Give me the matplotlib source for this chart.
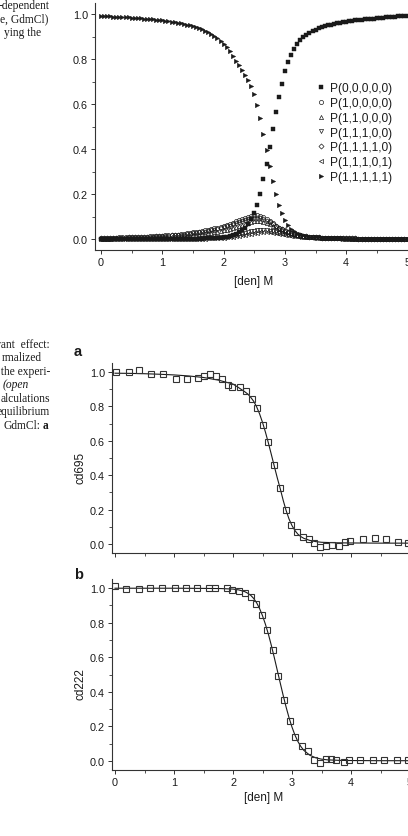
import matplotlib
matplotlib.use("Agg")
import matplotlib.pyplot as plt
from matplotlib.ticker import MultipleLocator

# ---------------- data ----------------
den = [0.00, 0.05, 0.10, 0.15, 0.20, 0.25, 0.30, 0.35, 0.40, 0.45,
       0.50, 0.55, 0.60, 0.65, 0.70, 0.75, 0.80, 0.85, 0.90, 0.95,
       1.00, 1.05, 1.10, 1.15, 1.20, 1.25, 1.30, 1.35, 1.40, 1.45,
       1.50, 1.55, 1.60, 1.65, 1.70, 1.75, 1.80, 1.85, 1.90, 1.95,
       2.00, 2.05, 2.10, 2.15, 2.20, 2.25, 2.30, 2.35, 2.40, 2.45,
       2.50, 2.55, 2.60, 2.65, 2.70, 2.75, 2.80, 2.85, 2.90, 2.95,
       3.00, 3.05, 3.10, 3.15, 3.20, 3.25, 3.30, 3.35, 3.40, 3.45,
       3.50, 3.55, 3.60, 3.65, 3.70, 3.75, 3.80, 3.85, 3.90, 3.95,
       4.00, 4.05, 4.10, 4.15, 4.20, 4.25, 4.30, 4.35, 4.40, 4.45,
       4.50, 4.55, 4.60, 4.65, 4.70, 4.75, 4.80, 4.85, 4.90, 4.95, 5.00]

p00000 = [0.000, 0.000, 0.000, 0.000, 0.000, 0.000, 0.000, 0.000, 0.000, 0.000,
          0.000, 0.000, 0.000, 0.000, 0.000, 0.000, 0.000, 0.000, 0.001, 0.001,
          0.001, 0.001, 0.001, 0.001, 0.001, 0.001, 0.001, 0.001, 0.001, 0.002,
          0.002, 0.002, 0.002, 0.002, 0.003, 0.003, 0.003, 0.004, 0.005, 0.006,
          0.008, 0.010, 0.013, 0.017, 0.022, 0.029, 0.038, 0.050, 0.066, 0.088,
          0.115, 0.150, 0.200, 0.265, 0.335, 0.410, 0.490, 0.565, 0.632, 0.690,
          0.745, 0.785, 0.818, 0.845, 0.866, 0.883, 0.897, 0.908, 0.917, 0.925,
          0.931, 0.937, 0.942, 0.946, 0.950, 0.953, 0.956, 0.959, 0.962, 0.964,
          0.966, 0.968, 0.970, 0.972, 0.974, 0.975, 0.977, 0.978, 0.979, 0.980,
          0.982, 0.983, 0.984, 0.985, 0.986, 0.987, 0.988, 0.989, 0.989, 0.990, 0.991]

p10000 = [0.005, 0.005, 0.005, 0.006, 0.006, 0.006, 0.007, 0.007, 0.007, 0.008,
          0.008, 0.009, 0.009, 0.010, 0.010, 0.011, 0.012, 0.012, 0.013, 0.014,
          0.015, 0.016, 0.017, 0.018, 0.019, 0.020, 0.022, 0.023, 0.025, 0.027,
          0.029, 0.031, 0.033, 0.035, 0.038, 0.041, 0.044, 0.047, 0.051, 0.055,
          0.059, 0.063, 0.068, 0.073, 0.078, 0.084, 0.089, 0.095, 0.100, 0.104,
          0.106, 0.105, 0.102, 0.096, 0.088, 0.079, 0.069, 0.060, 0.051, 0.043,
          0.037, 0.031, 0.026, 0.022, 0.019, 0.016, 0.014, 0.012, 0.010, 0.009,
          0.008, 0.007, 0.006, 0.006, 0.005, 0.005, 0.004, 0.004, 0.004, 0.003,
          0.003, 0.003, 0.003, 0.003, 0.002, 0.002, 0.002, 0.002, 0.002, 0.002,
          0.002, 0.002, 0.002, 0.002, 0.001, 0.001, 0.001, 0.001, 0.001, 0.001, 0.001]

p11000 = [0.002, 0.002, 0.002, 0.002, 0.003, 0.003, 0.003, 0.003, 0.004, 0.004,
          0.004, 0.004, 0.005, 0.005, 0.005, 0.006, 0.006, 0.007, 0.007, 0.008,
          0.008, 0.009, 0.009, 0.010, 0.011, 0.011, 0.012, 0.013, 0.014, 0.015,
          0.016, 0.018, 0.019, 0.021, 0.023, 0.025, 0.027, 0.030, 0.032, 0.035,
          0.038, 0.041, 0.045, 0.049, 0.053, 0.058, 0.063, 0.068, 0.073, 0.077,
          0.080, 0.081, 0.080, 0.077, 0.073, 0.067, 0.060, 0.053, 0.046, 0.040,
          0.034, 0.029, 0.025, 0.021, 0.018, 0.015, 0.013, 0.011, 0.010, 0.009,
          0.008, 0.007, 0.006, 0.005, 0.005, 0.004, 0.004, 0.004, 0.003, 0.003,
          0.003, 0.003, 0.002, 0.002, 0.002, 0.002, 0.002, 0.002, 0.002, 0.002,
          0.001, 0.001, 0.001, 0.001, 0.001, 0.001, 0.001, 0.001, 0.001, 0.001, 0.001]

p11100 = [0.000, 0.000, 0.000, 0.000, 0.000, 0.000, 0.000, 0.000, 0.000, 0.000,
          0.000, 0.001, 0.001, 0.001, 0.001, 0.001, 0.001, 0.001, 0.001, 0.001,
          0.001, 0.001, 0.001, 0.001, 0.001, 0.001, 0.001, 0.001, 0.001, 0.002,
          0.002, 0.002, 0.003, 0.003, 0.004, 0.004, 0.005, 0.006, 0.007, 0.008,
          0.009, 0.011, 0.013, 0.015, 0.018, 0.021, 0.024, 0.027, 0.031, 0.034,
          0.037, 0.039, 0.040, 0.040, 0.039, 0.037, 0.034, 0.031, 0.028, 0.025,
          0.022, 0.019, 0.017, 0.015, 0.013, 0.011, 0.010, 0.009, 0.008, 0.007,
          0.006, 0.005, 0.005, 0.004, 0.004, 0.003, 0.003, 0.003, 0.003, 0.002,
          0.002, 0.002, 0.002, 0.002, 0.002, 0.002, 0.002, 0.002, 0.002, 0.002,
          0.001, 0.001, 0.001, 0.001, 0.001, 0.001, 0.001, 0.001, 0.001, 0.001, 0.001]

p11110 = [0.004, 0.004, 0.005, 0.005, 0.005, 0.005, 0.006, 0.006, 0.006, 0.007,
          0.007, 0.008, 0.008, 0.009, 0.009, 0.010, 0.010, 0.011, 0.012, 0.012,
          0.013, 0.014, 0.015, 0.016, 0.017, 0.018, 0.019, 0.020, 0.022, 0.023,
          0.025, 0.027, 0.029, 0.031, 0.033, 0.036, 0.039, 0.042, 0.045, 0.048,
          0.052, 0.056, 0.060, 0.065, 0.070, 0.075, 0.080, 0.085, 0.089, 0.092,
          0.094, 0.094, 0.092, 0.088, 0.082, 0.075, 0.067, 0.059, 0.051, 0.044,
          0.038, 0.032, 0.027, 0.023, 0.020, 0.017, 0.014, 0.012, 0.011, 0.009,
          0.008, 0.007, 0.006, 0.006, 0.005, 0.005, 0.004, 0.004, 0.004, 0.003,
          0.003, 0.003, 0.003, 0.003, 0.002, 0.002, 0.002, 0.002, 0.002, 0.002,
          0.002, 0.002, 0.002, 0.001, 0.001, 0.001, 0.001, 0.001, 0.001, 0.001, 0.001]

p11101 = [0.000, 0.000, 0.000, 0.000, 0.000, 0.000, 0.000, 0.000, 0.000, 0.000,
          0.000, 0.000, 0.000, 0.000, 0.000, 0.000, 0.000, 0.000, 0.000, 0.000,
          0.001, 0.001, 0.001, 0.001, 0.001, 0.001, 0.001, 0.001, 0.001, 0.001,
          0.001, 0.001, 0.002, 0.002, 0.002, 0.003, 0.003, 0.004, 0.004, 0.005,
          0.006, 0.007, 0.008, 0.010, 0.012, 0.014, 0.016, 0.019, 0.021, 0.024,
          0.026, 0.028, 0.030, 0.030, 0.030, 0.029, 0.027, 0.025, 0.023, 0.021,
          0.019, 0.017, 0.015, 0.013, 0.012, 0.010, 0.009, 0.008, 0.007, 0.006,
          0.006, 0.005, 0.004, 0.004, 0.004, 0.003, 0.003, 0.003, 0.003, 0.002,
          0.002, 0.002, 0.002, 0.002, 0.002, 0.002, 0.002, 0.002, 0.002, 0.002,
          0.001, 0.001, 0.001, 0.001, 0.001, 0.001, 0.001, 0.001, 0.001, 0.001, 0.001]

p11111 = [0.990, 0.990, 0.989, 0.989, 0.988, 0.988, 0.987, 0.986, 0.986, 0.985,
          0.984, 0.983, 0.982, 0.981, 0.980, 0.979, 0.978, 0.976, 0.975, 0.973,
          0.972, 0.970, 0.968, 0.966, 0.964, 0.962, 0.959, 0.956, 0.953, 0.950,
          0.946, 0.942, 0.937, 0.932, 0.926, 0.919, 0.911, 0.902, 0.892, 0.881,
          0.868, 0.852, 0.835, 0.815, 0.793, 0.772, 0.752, 0.730, 0.706, 0.678,
          0.643, 0.597, 0.537, 0.467, 0.395, 0.325, 0.260, 0.202, 0.153, 0.114,
          0.083, 0.062, 0.046, 0.035, 0.027, 0.021, 0.017, 0.014, 0.011, 0.009,
          0.008, 0.007, 0.006, 0.005, 0.004, 0.004, 0.003, 0.003, 0.003, 0.002,
          0.002, 0.002, 0.002, 0.002, 0.001, 0.001, 0.001, 0.001, 0.001, 0.001,
          0.001, 0.001, 0.001, 0.001, 0.001, 0.001, 0.001, 0.000, 0.000, 0.000, 0.000]

state_labels = ["P(0,0,0,0,0)", "P(1,0,0,0,0)", "P(1,1,0,0,0)", "P(1,1,1,0,0)",
                "P(1,1,1,1,0)", "P(1,1,1,0,1)", "P(1,1,1,1,1)"]

# panel a: cd695 experiment + calculation
cd695_x = [0.01, 0.23, 0.41, 0.61, 0.82, 1.03, 1.22, 1.40, 1.51, 1.61, 1.71, 1.82,
           1.91, 1.99, 2.12, 2.22, 2.33, 2.40, 2.50, 2.60, 2.69, 2.80, 2.89, 2.98,
           3.08, 3.19, 3.28, 3.38, 3.47, 3.58, 3.68, 3.79, 3.90, 3.98, 4.20, 4.40,
           4.59, 4.80, 4.96]
cd695_y = [0.998, 0.998, 1.012, 0.988, 0.988, 0.959, 0.959, 0.963, 0.978, 0.988, 0.975,
           0.959, 0.924, 0.915, 0.911, 0.888, 0.843, 0.789, 0.694, 0.591, 0.459, 0.324,
           0.199, 0.112, 0.068, 0.039, 0.029, 0.004, -0.019, -0.010, -0.006, -0.010,
           0.010, 0.019, 0.029, 0.033, 0.029, 0.010, 0.006]
fit695_x = [0.0, 0.25, 0.5, 0.75, 1.0, 1.25, 1.5, 1.75, 2.0, 2.1, 2.2, 2.25, 2.3, 2.35,
            2.4, 2.45, 2.5, 2.55, 2.6, 2.65, 2.7, 2.75, 2.8, 2.85, 2.9, 2.95, 3.0, 3.05,
            3.1, 3.15, 3.2, 3.3, 3.4, 3.5, 3.75, 4.0, 4.5, 5.0, 5.2]
fit695_y = [0.993, 0.992, 0.990, 0.987, 0.983, 0.977, 0.968, 0.953, 0.930, 0.908, 0.885,
            0.872, 0.853, 0.830, 0.798, 0.757, 0.707, 0.650, 0.587, 0.520, 0.452, 0.385,
            0.322, 0.255, 0.195, 0.145, 0.107, 0.078, 0.057, 0.043, 0.033, 0.021, 0.014,
            0.010, 0.007, 0.006, 0.005, 0.005, 0.005]

# panel b: cd222 experiment + calculation
cd222_x = [0.005, 0.19, 0.40, 0.60, 0.79, 1.01, 1.20, 1.39, 1.60, 1.69, 1.89, 1.99,
           2.10, 2.20, 2.30, 2.39, 2.49, 2.58, 2.67, 2.77, 2.87, 2.97, 3.05, 3.17,
           3.27, 3.37, 3.47, 3.57, 3.66, 3.75, 3.88, 3.97, 4.16, 4.37, 4.56, 4.78, 4.96]
cd222_y = [1.013, 0.994, 0.994, 0.998, 0.998, 0.998, 0.998, 0.998, 0.998, 0.998, 0.998,
           0.990, 0.981, 0.969, 0.946, 0.907, 0.846, 0.757, 0.642, 0.490, 0.354, 0.233,
           0.137, 0.088, 0.060, 0.006, -0.012, 0.012, 0.012, 0.006, -0.004, 0.006, 0.006,
           0.006, 0.006, 0.006, 0.006]
fit222_x = [0.0, 0.5, 1.0, 1.5, 1.8, 2.0, 2.1, 2.2, 2.25, 2.3, 2.35, 2.4, 2.45, 2.5, 2.55,
            2.6, 2.65, 2.7, 2.75, 2.8, 2.85, 2.9, 2.95, 3.0, 3.05, 3.1, 3.15, 3.2, 3.3,
            3.4, 3.5, 3.6, 3.8, 4.0, 4.5, 5.0, 5.2]
fit222_y = [0.999, 0.999, 0.999, 0.998, 0.997, 0.994, 0.989, 0.979, 0.970, 0.958, 0.940,
            0.915, 0.882, 0.840, 0.790, 0.733, 0.668, 0.598, 0.525, 0.452, 0.380, 0.312,
            0.250, 0.196, 0.150, 0.113, 0.084, 0.062, 0.034, 0.019, 0.011, 0.007, 0.004,
            0.003, 0.002, 0.002, 0.002]

x_ticks = [0, 1, 2, 3, 4, 5]
y_ticks = [0.0, 0.2, 0.4, 0.6, 0.8, 1.0]

# ---------------- figure ----------------
W, H = 408, 837
fig = plt.figure(figsize=(W / 100, H / 100), dpi=100)
fig.patch.set_facecolor("white")
SANS = ["Liberation Sans", "DejaVu Sans"]
SERIF = ["Liberation Serif", "DejaVu Serif"]
INK = "#1a1a1a"
AX = "#333333"


def rect(l, r, t, b):
    return [l / W, 1 - b / H, (r - l) / W, (b - t) / H]


def style(ax, xlim, ylim, xlabels=True):
    ax.set_xlim(*xlim)
    ax.set_ylim(*ylim)
    for s in ("top", "right"):
        ax.spines[s].set_visible(False)
    for s in ("left", "bottom"):
        ax.spines[s].set_linewidth(0.8)
        ax.spines[s].set_color(AX)
    ax.set_xticks(x_ticks)
    ax.set_yticks(y_ticks)
    ax.set_xticklabels([str(t) for t in x_ticks] if xlabels else [])
    ax.set_yticklabels(["%.1f" % t for t in y_ticks])
    ax.xaxis.set_minor_locator(MultipleLocator(0.5))
    ax.yaxis.set_minor_locator(MultipleLocator(0.1))
    ax.tick_params(which="major", direction="out", length=3.0, width=0.7,
                   color=AX, labelcolor=INK, labelsize=7.8, pad=2)
    ax.tick_params(which="minor", direction="out", length=2.0, width=0.6, color=AX)
    for lab in ax.get_xticklabels() + ax.get_yticklabels():
        lab.set_fontfamily(SANS)
    ax.patch.set_alpha(0)


# top panel: state probabilities
ax0 = fig.add_axes(rect(95, 419.8, 3.75, 251.25))
style(ax0, (-0.098, 5.2), (-0.05, 1.05))
ms_open = 3.0
kw_open = dict(linestyle="none", mfc="none", mec=INK, mew=0.5, clip_on=False)
h1 = ax0.plot(den, p10000, marker="o", ms=ms_open, **kw_open)[0]
h2 = ax0.plot(den, p11000, marker="^", ms=ms_open, **kw_open)[0]
h3 = ax0.plot(den, p11100, marker="v", ms=ms_open, **kw_open)[0]
h4 = ax0.plot(den, p11110, marker="D", ms=2.6, **kw_open)[0]
h5 = ax0.plot(den, p11101, marker="<", ms=ms_open, **kw_open)[0]
h0 = ax0.plot(den, p00000, linestyle="none", marker="s", ms=2.6, mfc=INK, mec=INK,
              mew=0.3)[0]
h6 = ax0.plot(den, p11111, linestyle="none", marker=">", ms=3.2, mfc=INK, mec=INK,
              mew=0.3)[0]
ax0.set_xlabel("[den] M", fontsize=8.5, family=SANS, color=INK)
ax0.xaxis.set_label_coords((253.3 - 95) / (419.8 - 95), -(276.5 - 251.25) / (251.25 - 3.75))
leg = ax0.legend([h0, h1, h2, h3, h4, h5, h6], state_labels, loc="upper left",
                 bbox_to_anchor=(317.2 / W, 1 - 83.0 / H), bbox_transform=fig.transFigure,
                 frameon=False, prop={"family": SANS, "size": 8.6}, handlelength=0.6,
                 handletextpad=0.43, labelspacing=0.24, borderpad=0, borderaxespad=0,
                 numpoints=1, markerscale=1.0)
for t in leg.get_texts():
    t.set_color(INK)

# panel a
ax1 = fig.add_axes(rect(112, 421.8, 364.4, 553.6))
style(ax1, (-0.051, 5.2), (-0.05, 1.05), xlabels=False)
ax1.plot(fit695_x, fit695_y, color=INK, lw=0.8)
ax1.plot(cd695_x, cd695_y, linestyle="none", marker="s", ms=4.6, mfc="none",
         mec="#333333", mew=0.8)
ax1.set_ylabel("cd695", fontsize=8.5, family=SANS, color=INK)
ax1.yaxis.set_label_coords(-(112 - 87) / (421.8 - 112), (553.6 - 468) / (553.6 - 364.4))

# panel b
ax2 = fig.add_axes(rect(112, 421.8, 580.4, 770.7))
style(ax2, (-0.051, 5.2), (-0.05, 1.05))
ax2.plot(fit222_x, fit222_y, color=INK, lw=0.8)
ax2.plot(cd222_x, cd222_y, linestyle="none", marker="s", ms=4.6, mfc="none",
         mec="#333333", mew=0.8)
ax2.set_ylabel("cd222", fontsize=8.5, family=SANS, color=INK)
ax2.yaxis.set_label_coords(-(112 - 87) / (421.8 - 112), (770.7 - 684.5) / (770.7 - 580.4))
ax2.set_xlabel("[den] M", fontsize=8.5, family=SANS, color=INK)
ax2.xaxis.set_label_coords((264 - 112) / (421.8 - 112), -(792 - 770.7) / (770.7 - 580.4))

# panel letters
fig.text(78 / W, 1 - 352 / H, "a", fontsize=10.5, fontweight="bold", family=SANS,
         ha="center", va="center", color=INK)
fig.text(79 / W, 1 - 575 / H, "b", fontsize=10.5, fontweight="bold", family=SANS,
         ha="center", va="center", color=INK)

# fragments of the page caption text at the left edge
def page(x, y, s, **kw):
    fig.text(x / W, 1 - y / H, s, fontsize=8.3, family=SERIF, ha="right",
             va="center", color=INK, **kw)

page(50, 6, "-dependent")
page(48, 19.5, "e, GdmCl)")
page(41, 33, "ying the")
page(50, 345, "rant  effect:")
page(42, 358.5, "rmalized")
page(50, 372, " the experi-")
page(29, 385.5, "(open", style="italic")
page(50, 399, "alculations")
page(50, 412.5, "equilibrium")
page(40, 426, "GdmCl:")
fig.text(43 / W, 1 - 426 / H, "a", fontsize=8.3, family=SERIF, fontweight="bold",
         ha="left", va="center", color=INK)

fig.savefig("out.png", dpi=100)
